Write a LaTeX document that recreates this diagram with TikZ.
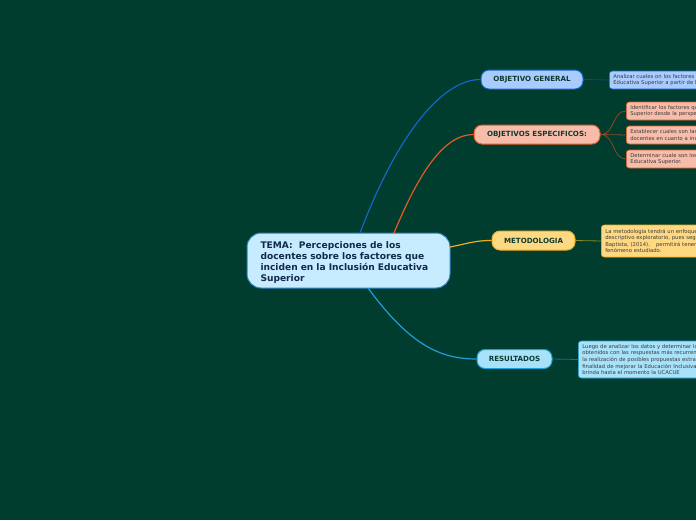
\documentclass[tikz,border=0pt]{standalone}
\usepackage{fontspec}
\setmainfont{DejaVu Sans}
\definecolor{bg}{HTML}{003D2E}
\definecolor{cfill}{HTML}{C8ECFF}
\definecolor{cline}{HTML}{2A7FBF}
\definecolor{cnavy}{HTML}{13294B}
\definecolor{bfill}{HTML}{A9CBFF}
\definecolor{bline}{HTML}{1565C8}
\definecolor{ofill}{HTML}{F8BDAA}
\definecolor{oline}{HTML}{E55A25}
\definecolor{obrown}{HTML}{8A4A25}
\definecolor{yfill}{HTML}{FFD982}
\definecolor{yline}{HTML}{F0AE1E}
\definecolor{yolive}{HTML}{8C8A2A}
\definecolor{rfill}{HTML}{A8E2FA}
\definecolor{rline}{HTML}{1E9ED8}
\definecolor{ttext}{HTML}{0E3B30}
\definecolor{ltext}{HTML}{3A3A3A}
\begin{document}
\begin{tikzpicture}[x=1pt,y=-1pt,
  central/.style={draw=cline,line width=1pt,fill=cfill,rounded corners=14pt,minimum width=203pt,minimum height=55pt,text width=176pt,align=left,text=cnavy,font=\fontsize{9.1}{11}\selectfont\bfseries,inner sep=0pt},
  topic/.style={line width=1pt,rounded corners=8pt,minimum height=19pt,inner sep=0pt,font=\fontsize{7.1}{8}\selectfont\bfseries,text=ttext},
  leaf/.style={line width=0.6pt,rounded corners=3pt,inner sep=0pt,align=left,anchor=west,font=\fontsize{5.3}{6.6}\selectfont,text=ltext},
  conn/.style={line width=1.2pt}]
\fill[bg] (0,0) rectangle (696,520);
\useasboundingbox (0,0) rectangle (696,520);
\clip (0,0) rectangle (696,520);

\node[central] (c) at (348.5,260.5) {\rule{0pt}{10.5pt}TEMA:\ \ Percepciones de los\\docentes sobre los factores que\\inciden en la Inclusión Educativa\\Superior};

\node[topic,draw=bline,fill=bfill,minimum width=102pt] (og) at (532,79.5) {OBJETIVO GENERAL};
\node[topic,draw=oline,fill=ofill,minimum width=126pt] (oe) at (537,134.5) {OBJETIVOS ESPECIFICOS:};
\node[topic,draw=yline,fill=yfill,minimum width=83pt] (me) at (533.5,240.5) {METODOLOGIA};
\node[topic,draw=rline,fill=rfill,minimum width=75pt] (re) at (514.5,359) {RESULTADOS};

\node[leaf,draw=bline,fill=bfill,minimum height=18pt,text width=170pt] (l1) at (609,80) {\hspace*{4pt}Analizar cuales on los factores que inciden en la Inclusión\\\hspace*{4pt}Educativa Superior a partir de la percepción docente};
\node[leaf,draw=oline,fill=ofill,minimum height=18pt,text width=170pt] (l2) at (626,111) {\hspace*{4pt}Identificar los factores que inciden en la Inclusión Educativa\\\hspace*{4pt}Superior desde la perspectiva docente};
\node[leaf,draw=oline,fill=ofill,minimum height=18pt,text width=170pt] (l3) at (626,135) {\hspace*{4pt}Establecer cuales son las percepciones de los\\\hspace*{4pt}docentes en cuanto a inclusión};
\node[leaf,draw=oline,fill=ofill,minimum height=18pt,text width=170pt] (l4) at (626,159) {\hspace*{4pt}Determinar cuale son los factores de la Inclusión\\\hspace*{4pt}Educativa Superior.};
\node[leaf,draw=yline,fill=yfill,minimum height=32pt,text width=170pt] (l5) at (601,241) {\hspace*{4pt}La metodología tendrá un enfoque cualitativo\\\hspace*{4pt}descriptivo exploratorio, pues según Hernández y\\\hspace*{4pt}Baptista, (2014). \ \ permitirá tener una visión del\\\hspace*{4pt}fenómeno estudiado.};
\node[leaf,draw=rline,fill=rfill,minimum height=37pt,text width=170pt] (l6) at (578,359.5) {\hspace*{4pt}Luego de analizar los datos y determinar los resultados\\\hspace*{4pt}obtenidos con las respuestas más recurrentes se plantea\\\hspace*{4pt}la realización de posibles propuestas estratégicas con la\\\hspace*{4pt}finalidad de mejorar la Educación Inclusiva que\\\hspace*{4pt}brinda hasta el momento la UCACUE};

\coordinate (cb) at (360,233);
\coordinate (co) at (394,233);
\coordinate (cy) at (450,247);
\coordinate (cr) at (368,288);
\draw[conn,bline] (cb) .. controls (395,140) and (440,79.5) .. (og.west);
\draw[conn,oline] (co) .. controls (420,170) and (445,134.5) .. (oe.west);
\draw[conn,yline] (cy) .. controls (470,243) and (475,240.5) .. (me.west);
\draw[conn,rline] (cr) .. controls (410,345) and (440,359) .. (re.west);

\draw[line width=0.8pt,bline!70!black] (og.east) -- (l1.west);
\draw[line width=0.8pt,obrown] (oe.east) .. controls (615,134.5) and (612,111) .. (l2.west);
\draw[line width=0.8pt,obrown] (oe.east) -- (l3.west);
\draw[line width=0.8pt,obrown] (oe.east) .. controls (615,134.5) and (612,159) .. (l4.west);
\draw[line width=0.8pt,yolive] (me.east) -- (l5.west);
\draw[line width=0.8pt,rline!70!black] (re.east) -- (l6.west);
\end{tikzpicture}
\end{document}
